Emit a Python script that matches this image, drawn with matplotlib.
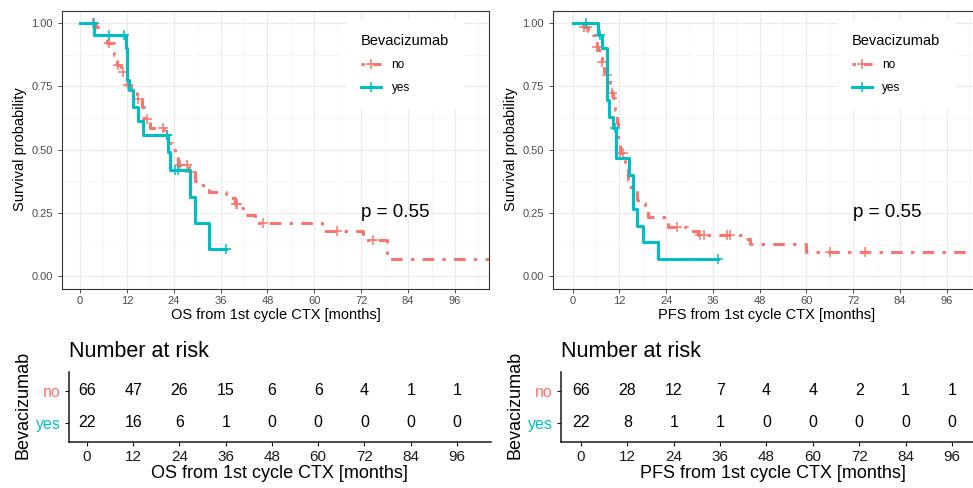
import numpy as np
import matplotlib
matplotlib.use("Agg")
from matplotlib import pyplot as plt
from matplotlib.lines import Line2D
from matplotlib.ticker import MultipleLocator, FormatStrFormatter

plt.rcParams['font.family'] = ['Liberation Sans', 'DejaVu Sans']

col_no = "#F8766D"
col_yes = "#00BFC4"
dotdash = (0, (1.1, 2.7, 3.8, 2.7))

# ---- OS curves (months, survival after each step) ----
os_no_t = [0, 4.0, 5.5, 7.0, 8.6, 9.6, 10.5, 12.0, 13.0, 14.5, 15.8, 16.5, 17.9, 21.5,
           22.5, 23.5, 24.3, 25.2, 28.0, 29.5, 31.0, 33.0, 37.5, 39.7, 40.5, 41.8, 44.8,
           61.9, 72.5, 78.5, 110]
os_no_s = [1.0, 0.985, 0.955, 0.92, 0.874, 0.834, 0.807, 0.755, 0.743, 0.70, 0.669, 0.62,
           0.584, 0.557, 0.527, 0.50, 0.478, 0.439, 0.412, 0.375, 0.36, 0.33, 0.307, 0.285,
           0.268, 0.241, 0.211, 0.178, 0.142, 0.066, 0.066]
os_no_cens = [3.3, 7.5, 9.8, 11.1, 12.4, 14.9, 17.2, 21.3, 22.2, 25.6, 27.3, 28.2,
              40.0, 40.3, 46.9, 65.9, 75.1]

os_yes_t = [0, 3.7, 11.9, 12.1, 12.6, 13.5, 14.9, 16.2, 22.5, 23.0, 28.2, 29.4, 32.9, 37.5]
os_yes_s = [1.0, 0.955, 0.90, 0.775, 0.735, 0.669, 0.614, 0.557, 0.49, 0.419, 0.313,
            0.21, 0.105, 0.105]
os_yes_cens = [3.5, 7.4, 11.3, 22.3, 24.3, 25.2, 37.5]

# ---- PFS curves ----
pfs_no_t = [0, 2.7, 4.0, 5.3, 6.2, 6.4, 7.4, 8.1, 8.7, 9.6, 10.0, 10.4, 10.9, 11.3, 11.5,
            11.7, 12.1, 13.5, 14.3, 14.9, 16.4, 16.8, 18.6, 19.4, 23.5, 24.5, 29.4, 32.2,
            43.8, 45.5, 60.0, 110]
pfs_no_s = [1.0, 0.985, 0.967, 0.954, 0.907, 0.894, 0.848, 0.808, 0.795, 0.762, 0.722,
            0.703, 0.656, 0.604, 0.564, 0.525, 0.485, 0.439, 0.38, 0.333, 0.30, 0.287,
            0.264, 0.232, 0.215, 0.195, 0.179, 0.16, 0.146, 0.126, 0.096, 0.096]
pfs_no_cens = [2.9, 3.6, 6.3, 7.5, 8.8, 10.1, 12.2, 13.0, 26.7, 32.8, 33.6, 39.6, 40.5,
               66.0, 75.0]

pfs_yes_t = [0, 6.6, 7.4, 8.9, 9.4, 10.4, 11.1, 14.5, 15.6, 16.4, 18.1, 22.0, 37.4]
pfs_yes_s = [1.0, 0.952, 0.90, 0.696, 0.63, 0.584, 0.466, 0.40, 0.265, 0.198, 0.133,
             0.066, 0.066]
pfs_yes_cens = [3.4, 7.1, 10.9, 37.4]

# ---- number at risk ----
risk_times = [0, 12, 24, 36, 48, 60, 72, 84, 96]
os_risk_no = [66, 47, 26, 15, 6, 6, 4, 1, 1]
os_risk_yes = [22, 16, 6, 1, 0, 0, 0, 0, 0]
pfs_risk_no = [66, 28, 12, 7, 4, 4, 2, 1, 1]
pfs_risk_yes = [22, 8, 1, 1, 0, 0, 0, 0, 0]
p_value = "p = 0.55"

W, H = 973, 488
fig = plt.figure(figsize=(W / 100, H / 100), dpi=100)


def box(l, t, w, h):
    return [l / W, 1 - (t + h) / H, w / W, h / H]


def km_panel(rect, xlim, curves, xlabel):
    ax = fig.add_axes(rect)
    for t, s, cens, color, ls in curves:
        ax.step(t, s, where='post', color=color, lw=2.2, linestyle=ls)
        t = np.array(t)
        s = np.array(s)
        cy = s[np.searchsorted(t, cens, side='right') - 1]
        ax.plot(cens, cy, ls='none', marker='+', ms=7, mew=1.1, color=color)
    ax.set_xlim(xlim)
    ax.set_ylim(-0.05, 1.05)
    ax.xaxis.set_major_locator(MultipleLocator(12))
    ax.xaxis.set_minor_locator(MultipleLocator(6))
    ax.yaxis.set_major_locator(MultipleLocator(0.25))
    ax.yaxis.set_minor_locator(MultipleLocator(0.125))
    ax.yaxis.set_major_formatter(FormatStrFormatter('%.2f'))
    ax.grid(which='major', color='#EBEBEB', lw=0.9)
    ax.grid(which='minor', color='#F3F3F3', lw=0.5)
    ax.set_axisbelow(True)
    ax.tick_params(which='major', length=2.7, width=0.6, color='#333333',
                   labelcolor='#4D4D4D', labelsize=8)
    ax.tick_params(axis='y', pad=4)
    ax.tick_params(axis='x', pad=2.5)
    ax.tick_params(which='minor', length=0)
    for sp in ax.spines.values():
        sp.set_color('#333333')
        sp.set_linewidth(0.8)
    ax.set_xlabel(xlabel, fontsize=10.5, labelpad=1.5)
    ax.text(72, 0.25, p_value, fontsize=13.5, ha='left', va='center')
    handles = [Line2D([], [], color=col_no, lw=2.2, linestyle=dotdash, marker='+',
                      ms=7, mew=1.1),
               Line2D([], [], color=col_yes, lw=2.2, marker='+', ms=7, mew=1.1)]
    ax.legend(handles, ['no', 'yes'], title='Bevacizumab', loc='upper left',
              bbox_to_anchor=(0.668, 0.965), borderaxespad=0, fontsize=8.5,
              title_fontsize=10.5, frameon=True, fancybox=False,
              facecolor='white', edgecolor='white', framealpha=1,
              handlelength=1.75, handletextpad=0.85, labelspacing=0.95,
              numpoints=1, alignment='left', borderpad=1.15)
    return ax


def risk_table(rect, xlim, no_vals, yes_vals, xlabel):
    ax = fig.add_axes(rect)
    for tb, n1, n2 in zip(risk_times, no_vals, yes_vals):
        ax.text(tb, 2, str(n1), ha='center', va='center', fontsize=11.5)
        ax.text(tb, 1, str(n2), ha='center', va='center', fontsize=11.5)
    ax.set_xlim(xlim)
    ax.set_ylim(0.4, 2.6)
    ax.set_xticks(risk_times)
    ax.set_yticks([1, 2])
    ax.set_yticklabels(['yes', 'no'])
    ax.spines['top'].set_visible(False)
    ax.spines['right'].set_visible(False)
    for k in ['left', 'bottom']:
        ax.spines[k].set_linewidth(1.1)
        ax.spines[k].set_color('#1a1a1a')
    ax.tick_params(length=2.7, width=0.8, color='#1a1a1a', labelcolor='#1a1a1a',
                   labelsize=11, pad=3)
    ax.tick_params(axis='y', labelsize=11.5)
    for lab, c in zip(ax.get_yticklabels(), [col_yes, col_no]):
        lab.set_color(c)
    ax.set_xlabel(xlabel, fontsize=13, labelpad=1)
    ax.text(0, 1.21, 'Number at risk', transform=ax.transAxes, fontsize=15.5,
            ha='left', va='baseline')
    return ax


km_panel(box(62, 10.5, 427, 278), (-4.6, 104.7),
         [(os_no_t, os_no_s, os_no_cens, col_no, dotdash),
          (os_yes_t, os_yes_s, os_yes_cens, col_yes, '-')],
         'OS from 1st cycle CTX [months]')
km_panel(box(553, 10.5, 426.8, 278), (-5.06, 104.5),
         [(pfs_no_t, pfs_no_s, pfs_no_cens, col_no, dotdash),
          (pfs_yes_t, pfs_yes_s, pfs_yes_cens, col_yes, '-')],
         'PFS from 1st cycle CTX [months]')
fig.text(20 / W, 1 - 149.5 / H, 'Survival probability', rotation=90, fontsize=10.5,
         ha='center', va='center')
fig.text(511.5 / W, 1 - 149.5 / H, 'Survival probability', rotation=90, fontsize=10.5,
         ha='center', va='center')

risk_table(box(69, 371.8, 421.5, 70.2), (-4.67, 104.7), os_risk_no, os_risk_yes,
           'OS from 1st cycle CTX [months]')
risk_table(box(561, 371.8, 424.6, 70.2), (-5.17, 104.7), pfs_risk_no, pfs_risk_yes,
           'PFS from 1st cycle CTX [months]')
fig.text(23 / W, 1 - 405 / H, 'Bevacizumab', rotation=90, fontsize=13,
         ha='center', va='center')
fig.text(515 / W, 1 - 405 / H, 'Bevacizumab', rotation=90, fontsize=13,
         ha='center', va='center')

fig.savefig('out.png', dpi=100)
